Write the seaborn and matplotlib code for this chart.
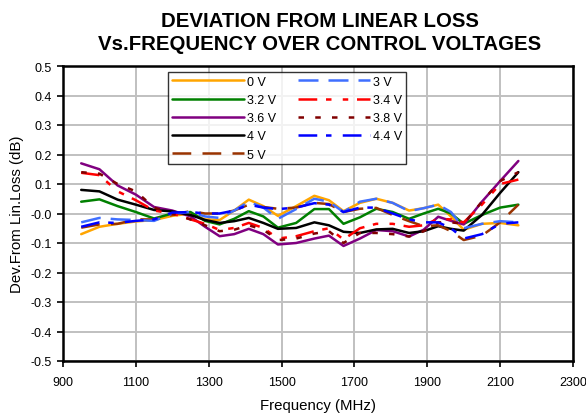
import numpy as np
import pandas as pd
import matplotlib
matplotlib.use('Agg')
import matplotlib.pyplot as plt
import seaborn as sns

# Values (dB deviation vs frequency in MHz)
freq_mhz = [950, 1000, 1050, 1100, 1150, 1200, 1250, 1290, 1330, 1370, 1410, 1450, 1490, 1540,
            1590, 1630, 1670, 1715, 1760, 1805, 1850, 1890, 1930, 1965, 2000, 2050, 2100, 2150]

dev_0v = [-0.070, -0.045, -0.035, -0.027, -0.022, -0.008, 0.000, -0.020, -0.022, 0.010, 0.047, 0.025,
          -0.008, 0.025, 0.060, 0.045, 0.008, 0.036, 0.050, 0.036, 0.010, 0.018, 0.030, -0.010,
          -0.055, -0.035, -0.032, -0.040]
dev_3v = [-0.030, -0.015, -0.020, -0.022, -0.025, 0.000, 0.005, -0.010, -0.015, 0.010, 0.040, 0.020,
          -0.018, 0.015, 0.050, 0.040, 0.005, 0.040, 0.050, 0.036, 0.008, 0.018, 0.030, 0.005,
          -0.050, -0.035, -0.026, -0.030]
dev_3v2 = [0.040, 0.048, 0.025, 0.005, -0.017, 0.000, 0.005, -0.025, -0.037, -0.018, 0.008, -0.010,
           -0.048, -0.032, 0.015, 0.015, -0.035, -0.013, 0.016, 0.005, -0.018, 0.000, 0.016, 0.000,
           -0.035, -0.005, 0.020, 0.030]
dev_3v4 = [0.138, 0.130, 0.075, 0.045, 0.010, 0.000, -0.020, -0.035, -0.056, -0.049, -0.032, -0.049,
           -0.085, -0.077, -0.060, -0.050, -0.088, -0.050, -0.035, -0.035, -0.045, -0.040, -0.018, -0.020,
           -0.030, 0.030, 0.100, 0.115]
dev_3v6 = [0.170, 0.150, 0.095, 0.064, 0.022, 0.010, -0.010, -0.045, -0.077, -0.070, -0.052, -0.070,
           -0.105, -0.100, -0.085, -0.075, -0.110, -0.085, -0.056, -0.060, -0.078, -0.055, -0.011, -0.025,
           -0.037, 0.040, 0.110, 0.178]
dev_3v8 = [0.140, 0.135, 0.100, 0.075, 0.020, 0.000, -0.020, -0.040, -0.060, -0.055, -0.040, -0.055,
           -0.090, -0.085, -0.068, -0.060, -0.100, -0.066, -0.066, -0.070, -0.078, -0.060, -0.030, -0.030,
           -0.035, 0.040, 0.110, 0.140]
dev_4v = [0.080, 0.075, 0.047, 0.030, 0.012, 0.007, -0.005, -0.022, -0.032, -0.026, -0.015, -0.032,
          -0.052, -0.049, -0.030, -0.040, -0.062, -0.066, -0.054, -0.052, -0.066, -0.060, -0.043, -0.052,
          -0.058, -0.005, 0.070, 0.140]
dev_4v4 = [-0.045, -0.030, -0.032, -0.025, -0.020, 0.003, 0.005, 0.000, 0.000, 0.010, 0.030, 0.020,
           0.015, 0.020, 0.035, 0.030, 0.005, 0.020, 0.020, 0.000, -0.020, -0.030, -0.030, -0.050,
           -0.085, -0.070, -0.035, -0.030]
dev_5v = [-0.048, -0.037, -0.035, -0.020, -0.020, -0.005, 0.008, 0.000, 0.000, 0.010, 0.030, 0.022,
          0.016, 0.020, 0.036, 0.032, 0.005, 0.016, 0.019, -0.005, -0.026, -0.043, -0.040, -0.060,
          -0.090, -0.075, -0.030, 0.030]

voltage_labels = ['0 V', '3.2 V', '3.6 V', '4 V', '5 V', '3 V', '3.4 V', '3.8 V', '4.4 V']
voltage_values = [dev_0v, dev_3v2, dev_3v6, dev_4v, dev_5v, dev_3v, dev_3v4, dev_3v8, dev_4v4]
line_colors = ['#FFA500', '#008000', '#800080', '#000000', '#993300',
               '#3F6FFF', '#FF0000', '#800000', '#0000FF']
line_styles = ['-', '-', '-', '-', (0, (7.5, 4.5)),
               (0, (8, 4)), (0, (7.5, 3.5, 2.2, 4.5, 2.2, 3.5)), (0, (2.2, 4.5)), (0, (7.5, 3.5, 2.2, 4.5))]

df = pd.DataFrame({
    'freq': np.tile(freq_mhz, len(voltage_labels)),
    'dev': np.concatenate(voltage_values),
    'voltage': np.repeat(voltage_labels, len(freq_mhz)),
})

sns.set_style('white')
plt.rcParams['font.family'] = ['Liberation Sans', 'DejaVu Sans']
plt.rcParams['text.color'] = 'black'
plt.rcParams['axes.labelcolor'] = 'black'
plt.rcParams['xtick.color'] = 'black'
plt.rcParams['ytick.color'] = 'black'

fig = plt.figure(figsize=(5.86, 4.14), dpi=100)
ax = fig.add_axes([63 / 586, 1 - 362 / 414, 510 / 586, 295 / 414])

for label, color, ls in zip(voltage_labels, line_colors, line_styles):
    sub = df[df['voltage'] == label]
    sns.lineplot(data=sub, x='freq', y='dev', ax=ax, color=color, linestyle=ls,
                 linewidth=1.8, label=label, zorder=3)

ax.set_xlim(900, 2300)
ax.set_ylim(-0.5, 0.5)
ax.set_xticks(np.arange(900, 2301, 200))
y_ticks = np.round(np.arange(-0.5, 0.51, 0.1), 1)
ax.set_yticks(y_ticks)
ax.set_yticklabels([f'{v:.1f}' for v in y_ticks])
ax.grid(True, color='#c0c0c0', linewidth=1.4, zorder=0)
ax.set_axisbelow(True)
for sp in ax.spines.values():
    sp.set_color('black')
    sp.set_linewidth(1.8)
ax.tick_params(axis='both', labelsize=9, length=4, width=1.2, color='black', direction='out',
               left=True, bottom=True)
ax.tick_params(axis='x', pad=7)
ax.tick_params(axis='y', pad=4)

ax.set_xlabel('Frequency (MHz)', fontsize=10.8, labelpad=7)
ax.set_ylabel('Dev.From Lin.Loss (dB)', fontsize=10.8, labelpad=5)

fig.text(320 / 586, 1 - 33 / 414, 'DEVIATION FROM LINEAR LOSS\nVs.FREQUENCY OVER CONTROL VOLTAGES',
         ha='center', va='center', fontsize=14.7, fontweight='bold', linespacing=1.25)

leg = ax.legend(loc='upper left', bbox_to_anchor=(0.206, 0.98), borderaxespad=0, ncol=2, fontsize=9,
                handlelength=5.8, handletextpad=0.25, columnspacing=1.7, labelspacing=0.5,
                borderpad=0.3, frameon=True, fancybox=False, edgecolor='black')
leg.get_frame().set_linewidth(1.0)

fig.savefig('out.png', dpi=100)
